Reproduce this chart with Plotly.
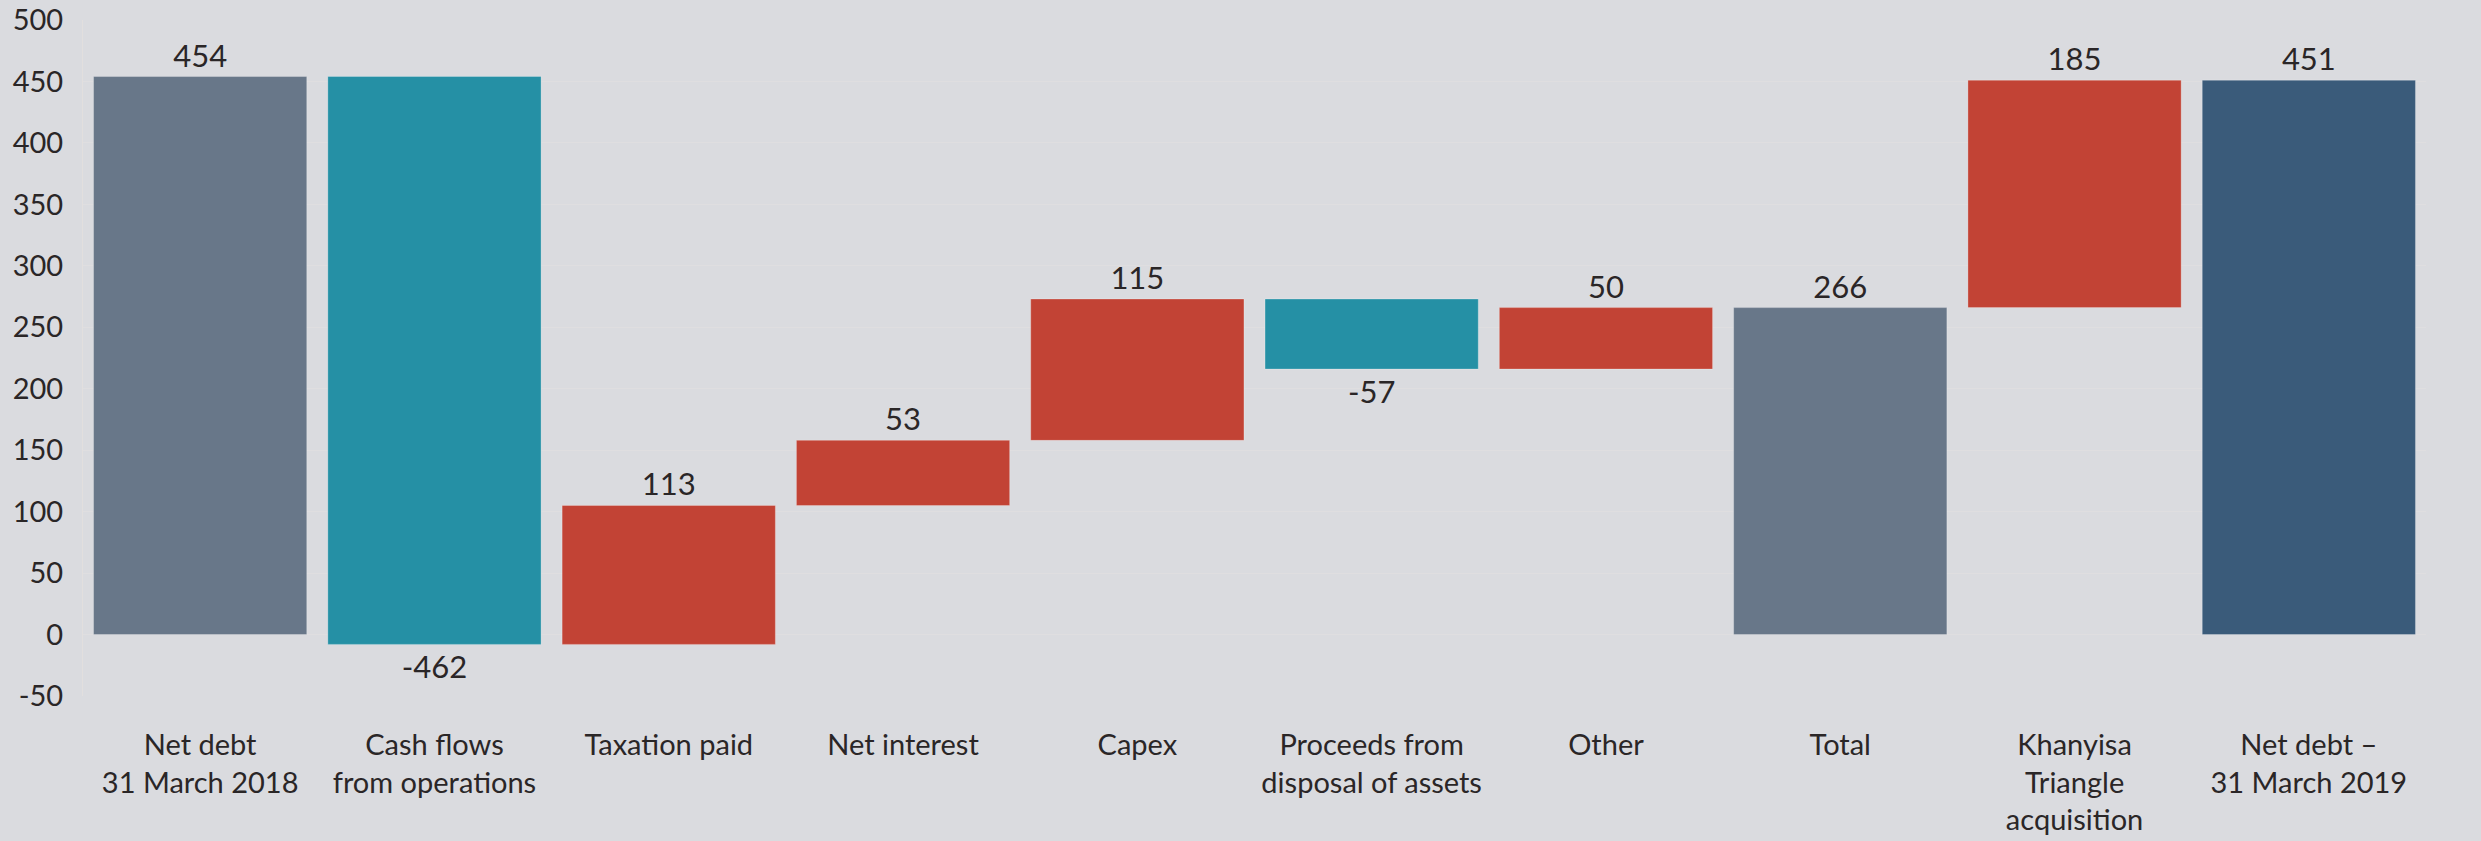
import plotly.graph_objects as go

categories = [
    "Net debt<br>31 March 2018",
    "Cash flows<br>from operations",
    "Taxation paid",
    "Net interest",
    "Capex",
    "Proceeds from<br>disposal of assets",
    "Other",
    "Total",
    "Khanyisa<br>Triangle<br>acquisition",
    "Net debt –<br>31 March 2019",
]
values = [454, -462, 113, 53, 115, -57, 50, 266, 185, 451]
kinds = ["total", "delta", "delta", "delta", "delta", "delta", "delta", "total", "delta", "total"]
colors = ["#687789", "#2590A5", "#C24335", "#C24335", "#C24335",
          "#2590A5", "#C24335", "#687789", "#C24335", "#3A5B7A"]
y_ticks = [-50, 0, 50, 100, 150, 200, 250, 300, 350, 400, 450, 500]
y_tick_labels = [str(t) for t in y_ticks]

bases, heights = [], []
running = 0
for v, k in zip(values, kinds):
    if k == "total":
        bases.append(0)
        heights.append(v)
        running = v
    else:
        bases.append(running)
        heights.append(v)
        running += v

FONT = "Lato, 'Open Sans', sans-serif"
TXT = "#2A2627"
BG = "#DADBDF"

fig = go.Figure(go.Bar(
    x=list(range(len(categories))),
    y=heights,
    base=bases,
    marker=dict(color=colors, line=dict(color="rgba(255,255,255,0.25)", width=1)),
    text=[str(v) for v in values],
    textposition="outside",
    textfont=dict(family=FONT, size=31, color=TXT),
    cliponaxis=False,
    hoverinfo="skip",
))

fig.update_layout(
    width=2481, height=841,
    paper_bgcolor=BG, plot_bgcolor=BG,
    margin=dict(l=83, r=55, t=20, b=145),
    bargap=0.09,
    showlegend=False,
    font=dict(family=FONT, color=TXT),
)
fig.update_xaxes(
    tickmode="array",
    tickvals=list(range(len(categories))),
    ticktext=categories,
    range=[-0.5, len(categories) - 0.5],
    showgrid=False, zeroline=False, showline=False,
    tickfont=dict(family=FONT, size=29, color=TXT),
    ticks="", ticklabelstandoff=29,
    automargin=False,
)
fig.update_yaxes(
    range=[-50, 500],
    tickmode="array", tickvals=y_ticks, ticktext=y_tick_labels,
    showgrid=True, gridcolor="#DFDEE0", gridwidth=1,
    zeroline=False,
    showline=True, linecolor="#E2DFDE", linewidth=1,
    tickfont=dict(family=FONT, size=29, color=TXT),
    ticks="", ticklabelstandoff=13,
    automargin=False,
)

fig.write_html("out.html")
